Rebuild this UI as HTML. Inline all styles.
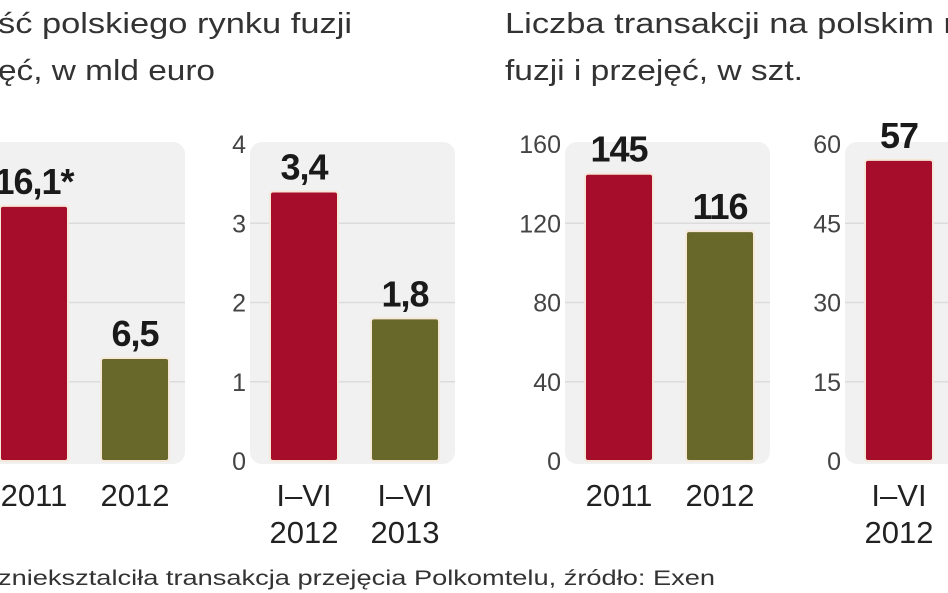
<!DOCTYPE html>
<html><head><meta charset="utf-8">
<style>
html,body{margin:0;padding:0;background:#fff;}
svg{display:block;font-family:"Liberation Sans",sans-serif;}
</style></head>
<body>
<svg id="chart" width="948" height="593" viewBox="0 0 948 593">
  <text x="-2" y="33" font-size="29" fill="#333" textLength="354" lengthAdjust="spacingAndGlyphs">ść polskiego rynku fuzji</text>
  <text x="-2" y="80" font-size="29" fill="#333" textLength="217" lengthAdjust="spacingAndGlyphs">ęć, w mld euro</text>
  <text x="505" y="33" font-size="29" fill="#333" textLength="450" lengthAdjust="spacingAndGlyphs">Liczba transakcji na polskim r</text>
  <text x="505" y="80" font-size="29" fill="#333" textLength="298" lengthAdjust="spacingAndGlyphs">fuzji i przejęć, w szt.</text>
  <text x="-2" y="585" font-size="21" fill="#333" textLength="717" lengthAdjust="spacingAndGlyphs">znieksztalciła transakcja przejęcia Polkomtelu, źródło: Exen</text>
</svg>
<script>
const panelNames = ['value-annual','value-half-year','count-annual','count-half-year'];
const panelMax = [20, 4, 160, 60];
const tickLabels = [[], ['0','1','2','3','4'], ['0','40','80','120','160'], ['0','15','30','45','60']];
const categories = [[['2011'],['2012']], [['I–VI','2012'],['I–VI','2013']], [['2011'],['2012']], [['I–VI','2012'],['I–VI','2013']]];
const values = [[16.1, 6.5], [3.4, 1.8], [145, 116], [57, 40]];
const valueLabels = [['16,1*','6,5'], ['3,4','1,8'], ['145','116'], ['57','40']];

const svg = document.getElementById('chart');
const NS = 'http://www.w3.org/2000/svg';
const base = 461, plotH = 317;
const panelX = [-20, 250, 565, 845];
const barColors = ['#a50d2a', '#68682a'];
function mk(tag, attrs){ const e = document.createElementNS(NS, tag); for (const k in attrs) e.setAttribute(k, attrs[k]); return e; }

panelNames.forEach((pn, p) => {
  const px = panelX[p];
  const y = v => base - plotH * v / panelMax[p];
  const g = mk('g', {});
  
  
  svg.appendChild(g);
  const bg = mk('rect', {x: px, y: 142, width: 205, height: 322, rx: 12, fill: '#f1f1f2'});
  
  
  g.appendChild(bg);
  const ticks = tickLabels[p].length ? tickLabels[p] : ['0','5','10','15','20'];
  ticks.forEach((t, i) => {
    const v = panelMax[p] * i / (ticks.length - 1);
    const ty = y(v);
    if (i > 0 && i < ticks.length - 1) {
      const gl = mk('line', {x1: px, x2: px + 205, y1: ty, y2: ty, stroke: '#dcdcdc', 'stroke-width': 1.5});
      
      
      g.appendChild(gl);
    }
    if (tickLabels[p].length) {
      const tl = mk('text', {x: px - 4, y: ty + 9, 'font-size': 25, fill: '#444', 'text-anchor': 'end'});
      tl.textContent = t;
      
      
      g.appendChild(tl);
    }
  });
  values[p].forEach((v, i) => {
    const bx = px + 20 + i * 101;
    const top = y(v);
    const r = mk('rect', {x: bx, y: top, width: 68, height: base - top, rx: 3, fill: barColors[i], stroke: '#f6e8d8', 'stroke-width': 2});
    
    
    g.appendChild(r);
    const vl = mk('text', {x: bx + 34, y: top - 12, 'font-size': 36, 'font-weight': 'bold', fill: '#1a1a1a', 'text-anchor': 'middle', 'letter-spacing': '-1'});
    vl.textContent = valueLabels[p][i];
    
    
    g.appendChild(vl);
    categories[p][i].forEach((line, li) => {
      const cl = mk('text', {x: bx + 34, y: 506 + li * 37, 'font-size': 31, fill: '#222', 'text-anchor': 'middle'});
      cl.textContent = line;
      
      
      g.appendChild(cl);
    });
  });
});
</script>
</body></html>
